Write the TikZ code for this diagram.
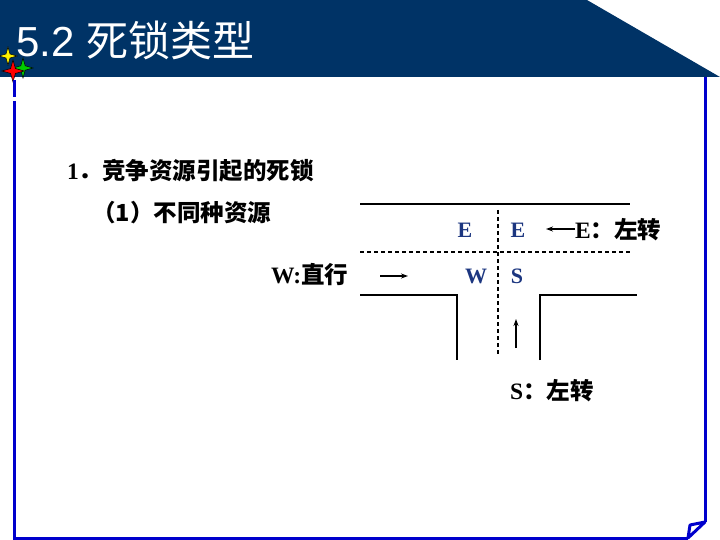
\documentclass[tikz,border=0pt]{standalone}
\usepackage{fontspec}
\setmainfont{Liberation Serif}
\newfontfamily\cjk{Noto Sans CJK SC}
\newfontfamily\arialfont{Liberation Sans}
\usetikzlibrary{arrows.meta}
\definecolor{headblue}{RGB}{0,51,102}
\definecolor{frameblue}{RGB}{0,0,204}
\definecolor{laneblue}{RGB}{28,54,128}
\tikzset{
  txt/.style={inner sep=0pt, anchor=base west, font=\fontsize{23.5}{26}\selectfont\bfseries},
  lane/.style={inner sep=0pt, anchor=base, text=laneblue, font=\fontsize{22}{25}\selectfont\bfseries},
  road/.style={line width=1.2pt},
  midline/.style={line width=1.1pt, dash pattern=on 4pt off 3pt},
  go/.style={line width=1.3pt, -{Stealth[length=7pt,width=5pt]}},
  rim/.style={frameblue, line width=3pt}
}
\newcommand{\sparkle}[4]{%
  \begin{scope}[shift={(#1,#2)}]
    \filldraw[fill=#3, draw=black, line width=0.5pt] (0,-#4) -- (0.22*#4,-0.22*#4) -- (#4,0) -- (0.22*#4,0.22*#4)
      -- (0,#4) -- (-0.22*#4,0.22*#4) -- (-#4,0) -- (-0.22*#4,-0.22*#4) -- cycle;
  \end{scope}}

\begin{document}
\begin{tikzpicture}[x=1pt, y=-1pt]
\useasboundingbox (0,0) rectangle (720,540);
\fill[headblue] (0,0) -- (587,0) -- (720,77) -- (0,77) -- cycle;
\node[inner sep=0pt, anchor=base west, text=white, font=\fontsize{42}{46}\selectfont] (title) at (16,57) {\arialfont 5.2 \cjk 死锁类型};
\sparkle{8}{56}{yellow}{9}
\sparkle{23}{68}{green!80!black}{10}
\sparkle{13}{71}{red}{11}

\draw[rim] (14,80) -- (14,97);
\draw[rim] (14,101) -- (14,538) -- (688,538);
\draw[rim] (705,77) -- (705,522);
\draw[rim, line join=round] (690,525) -- (705,522) -- (688,538) -- cycle;

\node[txt] (secA) at (67,180) {1{\cjk ．竞争资源引起的死锁}};
\node[txt] (secB) at (92,222) {\cjk （1）不同种资源};
\node[txt] (wturn) at (271,283) {W:{\cjk 直行}};

\draw[road] (360,204) -- (630,204);
\draw[midline] (360,252) -- (632,252);
\draw[midline] (498,210) -- (498,355);
\draw[road] (360,295) -- (457,295) -- (457,360);
\draw[road] (540,360) -- (540,295) -- (637,295);

\node[lane] (eLeft) at (465,237) {E};
\node[lane] (eRight) at (518,237) {E};
\node[lane] (wLane) at (476,283) {W};
\node[lane] (sLane) at (517,283) {S};

\node[txt] (eturn) at (575,238) {E{\cjk ：左转}};
\node[txt] (sturn) at (510,399) {S{\cjk ：左转}};

\coordinate (etip) at (546,229);
\coordinate (wtail) at (380,276);
\coordinate (wtip) at (408,276);
\coordinate (stail) at (516,348);
\coordinate (stip) at (516,319);
\draw[go] (eturn.west |- etip) -- (etip);
\draw[go] (wtail) -- (wtip);
\draw[go] (stail) -- (stip);
\end{tikzpicture}
\end{document}
